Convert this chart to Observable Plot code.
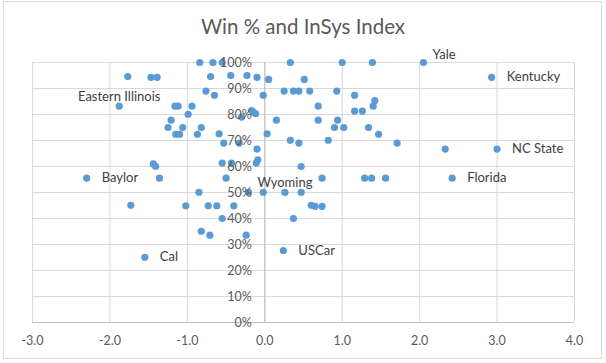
<!DOCTYPE html>
<html>
<head>
<meta charset="utf-8">
<script src="https://cdn.jsdelivr.net/npm/d3@7"></script>
<script src="https://cdn.jsdelivr.net/npm/@observablehq/plot@0.6"></script>
<style>
  html, body { margin: 0; padding: 0; background: #fff; }
  #wrap { position: relative; width: 606px; height: 363px; overflow: hidden; font-family: Lato, "Open Sans", sans-serif; }
  #frame { position: absolute; left: 3px; top: 1px; width: 599px; height: 358px; border: 1px solid #d9d9d9; box-sizing: border-box; }
  #title { position: absolute; left: 0; width: 606px; top: 14px; text-align: center; font-size: 20.5px; color: #595959; }
  #chart { position: absolute; left: 0; top: 0; }
</style>
</head>
<body>
<div id="wrap">
  <div id="frame"></div>
  <div id="chart"></div>
  <div id="title">Win % and InSys Index</div>
</div>
<script>
// InSys Index (x) and Win % (y) for each team
const insys = [
  -0.84, -0.67, -0.55, 0.33, 1.00, 1.39, 2.05,
  -1.77, -1.47, -1.39, -0.70, -0.44, -0.23, -0.10, 0.05, 0.51, 2.93,
  -0.76, 0.25, 0.37, 0.44, 0.58, 0.93, -0.65, -0.02, 1.16,
  1.42, 1.40,
  -1.88, -1.16, -1.12, -0.94, 0.69,
  1.16, 1.26, -0.17, -0.15, -0.12, -0.99,
  -0.30,
  -1.21, 0.15, 0.69, 0.94,
  -1.25, -1.06, -0.82, 0.90, 1.02, 1.34,
  -1.15, -1.10, -0.87, -0.59, 0.03, 1.47,
  0.33, 0.82, -0.53, -0.33, 0.44, 1.71,
  -0.10, 2.33, 3.00,
  -0.09, -0.11, -1.44, -1.41, -0.55, -0.43, 0.47,
  -2.30, -1.36, -0.50, 0.74, 1.29, 1.38, 1.56, 2.42,
  -0.85, -0.21, -0.02, 0.26, 0.47,
  -1.73, -1.02, -0.73, -0.62, -0.40, 0.60, 0.65, 0.74,
  -0.55, 0.37,
  -0.82, -0.71, -0.24,
  0.24,
  -1.55
];
const winPct = [
  1.000, 1.000, 1.000, 1.000, 1.000, 1.000, 1.000,
  0.946, 0.943, 0.943, 0.946, 0.950, 0.950, 0.943, 0.935, 0.935, 0.943,
  0.890, 0.890, 0.890, 0.890, 0.890, 0.890, 0.874, 0.874, 0.874,
  0.853, 0.832,
  0.832, 0.832, 0.832, 0.832, 0.832,
  0.813, 0.813, 0.815, 0.809, 0.803, 0.801,
  0.790,
  0.778, 0.778, 0.778, 0.778,
  0.750, 0.750, 0.750, 0.750, 0.750, 0.750,
  0.724, 0.724, 0.724, 0.726, 0.726, 0.724,
  0.701, 0.701, 0.690, 0.690, 0.690, 0.690,
  0.667, 0.667, 0.667,
  0.626, 0.613, 0.610, 0.601, 0.613, 0.613, 0.600,
  0.555, 0.555, 0.555, 0.555, 0.555, 0.555, 0.555, 0.555,
  0.501, 0.501, 0.501, 0.501, 0.501,
  0.451, 0.449, 0.449, 0.449, 0.449, 0.451, 0.447, 0.447,
  0.400, 0.400,
  0.351, 0.336, 0.336,
  0.277,
  0.251
];
// Labelled teams
const labelNames = ["Kentucky", "NC State", "Florida", "Baylor", "Cal", "USCar"];
const labelX     = [2.93, 3.00, 2.42, -2.30, -1.55, 0.24];
const labelY     = [0.943, 0.667, 0.555, 0.555, 0.251, 0.277];
const aboveNames = ["Wyoming", "Eastern Illinois"];
const aboveX     = [0.26, -1.88];
const aboveY     = [0.501, 0.832];
const yaleName = ["Yale"];
const yaleX = [2.05];
const yaleY = [1.000];

const xTicks = [-3, -2, -1, 0, 1, 2, 3, 4];
const yTicks = [0, 0.1, 0.2, 0.3, 0.4, 0.5, 0.6, 0.7, 0.8, 0.9, 1.0];

const points = insys.map((x, i) => ({x, y: winPct[i]}));
const labels = labelNames.map((n, i) => ({n, x: labelX[i], y: labelY[i]}));
const above = aboveNames.map((n, i) => ({n, x: aboveX[i], y: aboveY[i]}));
const yale = yaleName.map((n, i) => ({n, x: yaleX[i], y: yaleY[i]}));

const font = "Lato, 'Open Sans', sans-serif";
const chart = Plot.plot({
  width: 606,
  height: 363,
  marginLeft: 32,
  marginRight: 32,
  marginTop: 62,
  marginBottom: 41,
  style: {fontFamily: font, background: "transparent", overflow: "visible"},
  x: {domain: [-3, 4], label: null},
  y: {domain: [0, 1], label: null, axis: null},
  marks: [
    Plot.ruleX(xTicks, {stroke: "#d9d9d9"}),
    Plot.ruleY(yTicks, {stroke: "#d9d9d9"}),
    Plot.ruleX([0], {stroke: "#bfbfbf"}),
    Plot.ruleY([0], {stroke: "#bfbfbf"}),
    Plot.dot(points, {x: "x", y: "y", r: 3.6, fill: "#5b9bd5", stroke: "none"}),
    Plot.text(yTicks, {x: 0, y: d => d, text: d => Math.round(d * 100) + "%", textAnchor: "end", dx: -13, fontSize: 12.5, fill: "#595959"}),
    Plot.axisX(xTicks, {tickSize: 0, tickPadding: 14, tickFormat: d => d.toFixed(1), fontSize: 12.5, color: "#595959", label: null}),
    Plot.text(labels, {x: "x", y: "y", text: "n", textAnchor: "start", dx: 15, fontSize: 13, fill: "#404040"}),
    Plot.text(above, {x: "x", y: "y", text: "n", textAnchor: "middle", dy: -9, fontSize: 13, fill: "#404040"}),
    Plot.text(yale, {x: "x", y: "y", text: "n", textAnchor: "start", dx: 9, dy: -8, fontSize: 13, fill: "#404040"})
  ]
});
document.getElementById("chart").appendChild(chart);
</script>
</body>
</html>
